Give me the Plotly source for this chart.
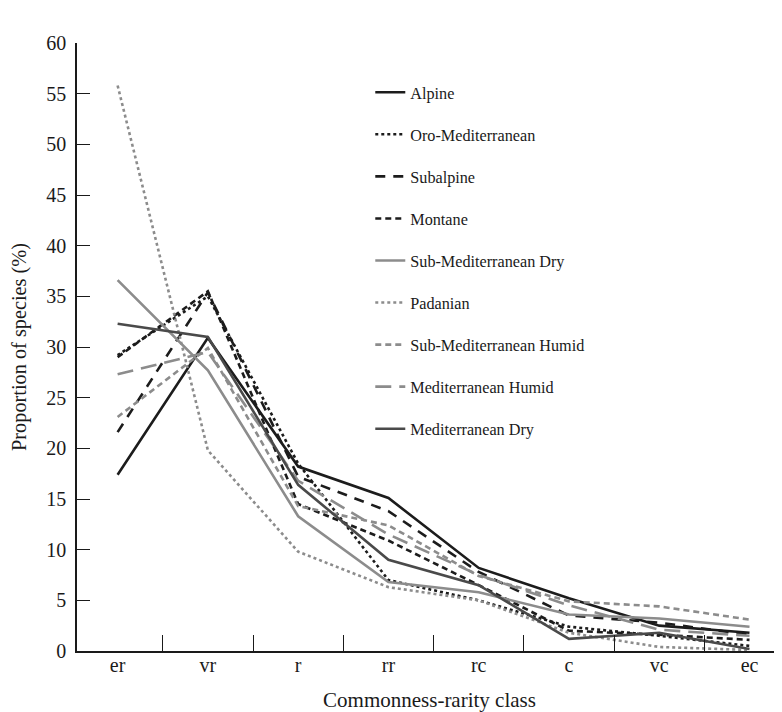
import plotly.graph_objects as go

classes = ["er", "vr", "r", "rr", "rc", "c", "vc", "ec"]

alpine = [17.4, 30.9, 18.2, 15.1, 8.2, 5.2, 2.5, 1.8]
oro_mediterranean = [29.2, 35.0, 18.5, 7.0, 5.0, 2.4, 1.5, 0.5]
subalpine = [21.6, 35.4, 17.2, 13.8, 7.8, 3.5, 2.8, 1.6]
montane = [29.0, 35.5, 14.5, 10.9, 6.5, 2.0, 1.6, 1.1]
sub_med_dry = [36.6, 27.7, 13.3, 6.8, 5.8, 3.6, 3.2, 2.4]
padanian = [55.8, 19.8, 9.8, 6.3, 5.0, 1.8, 0.4, 0.1]
sub_med_humid = [23.1, 29.9, 14.3, 12.4, 7.4, 4.9, 4.4, 3.1]
med_humid = [27.3, 29.5, 16.8, 11.5, 7.5, 4.5, 2.1, 1.5]
med_dry = [32.3, 31.0, 16.4, 9.0, 6.5, 1.2, 1.8, 0.2]

series = [
    ("Alpine", alpine, "#1c1c1c", "solid"),
    ("Oro-Mediterranean", oro_mediterranean, "#1c1c1c", "dot"),
    ("Subalpine", subalpine, "#1c1c1c", "10px,8px"),
    ("Montane", montane, "#1c1c1c", "6px,4px"),
    ("Sub-Mediterranean Dry", sub_med_dry, "#8c8c8c", "solid"),
    ("Padanian", padanian, "#8c8c8c", "dot"),
    ("Sub-Mediterranean Humid", sub_med_humid, "#8c8c8c", "6px,4px"),
    ("Mediterranean Humid", med_humid, "#8c8c8c", "16px,8px"),
    ("Mediterranean Dry", med_dry, "#4a4a4a", "solid"),
]

fig = go.Figure()
for i, (name, vals, color, dash) in enumerate(series):
    fig.add_trace(go.Scatter(
        x=classes, y=vals, mode="lines", name=name,
        legendgroup="g%d" % i,
        line=dict(color=color, width=2.6, dash=dash),
    ))

serif = "Liberation Serif"

fig.update_layout(
    width=774, height=704,
    margin=dict(l=69, r=0, t=35, b=61, autoexpand=False),
    paper_bgcolor="white", plot_bgcolor="white",
    font=dict(family=serif, size=20, color="#1a1a1a"),
    showlegend=True,
    legend=dict(
        x=0.416, y=0.947, xanchor="left", yanchor="top",
        font=dict(family=serif, size=16.2, color="#1a1a1a"),
        tracegroupgap=18, bgcolor="rgba(0,0,0,0)",
        itemwidth=30,
    ),
    xaxis=dict(
        type="category", range=[-0.45, 7.36],
        tickson="boundaries", ticks="inside", ticklen=16, tickcolor="#1a1a1a",
        tickwidth=1.2,
        showline=True, linecolor="#1a1a1a", linewidth=1.5,
        showgrid=False, zeroline=False, automargin=False,
        ticklabelstandoff=-5,
        title=dict(text="Commonness-rarity class", font=dict(size=21), standoff=18),
        tickfont=dict(size=20),
    ),
    yaxis=dict(
        range=[0, 60], dtick=5, tick0=0,
        ticks="inside", ticklen=13, tickcolor="#1a1a1a", tickwidth=1.2,
        showline=True, linecolor="#1a1a1a", linewidth=1.5,
        showgrid=False, zeroline=False, automargin=False,
        ticklabelstandoff=5,
        title=dict(text="Proportion of species (%)", font=dict(size=20.3), standoff=14),
        tickfont=dict(size=20),
    ),
)

fig.write_html("out.html")
